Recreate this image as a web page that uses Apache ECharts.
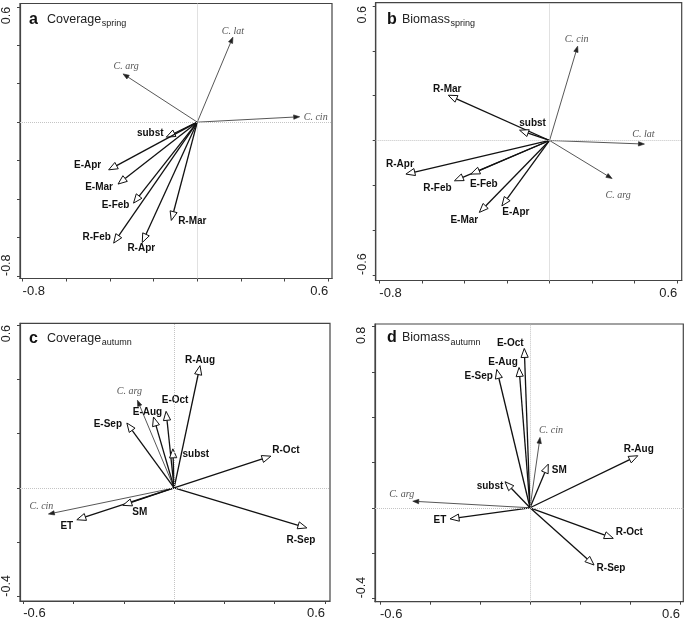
<!DOCTYPE html>
<html><head><meta charset="utf-8">
<script src="https://cdn.jsdelivr.net/npm/echarts@6/dist/echarts.min.js"></script>
<style>html,body{margin:0;padding:0;background:#fff}#c{width:685px;height:622px}</style>
</head><body><div id="c"></div>
<script>
// ---- Panel a: Coverage spring ----
const aEnvNames = ['subst','E-Apr','E-Mar','E-Feb','R-Feb','R-Apr','R-Mar'];
const aEnvX = [-0.142,-0.406,-0.363,-0.292,-0.383,-0.252,-0.119];
const aEnvY = [-0.078,-0.248,-0.322,-0.421,-0.629,-0.626,-0.511];
const aSpNames = ['C. lat','C. arg','C. cin'];
const aSpX = [0.163,-0.340,0.469];
const aSpY = [0.442,0.251,0.028];
const aXTicks = [-0.8,-0.6,-0.4,-0.2,0,0.2,0.4,0.6];
const aYTicks = [-0.8,-0.6,-0.4,-0.2,0,0.2,0.4,0.6];
const aXLabels = [-0.8,0.6];
const aYLabels = [-0.8,0.6];

// ---- Panel b: Biomass spring ----
const bEnvNames = ['R-Mar','subst','R-Apr','R-Feb','E-Feb','E-Mar','E-Apr'];
const bEnvX = [-0.476,-0.141,-0.675,-0.447,-0.370,-0.330,-0.224];
const bEnvY = [0.202,0.046,-0.150,-0.180,-0.150,-0.321,-0.292];
const bSpNames = ['C. cin','C. lat','C. arg'];
const bSpX = [0.132,0.446,0.294];
const bSpY = [0.421,-0.016,-0.170];
const bXTicks = [-0.8,-0.6,-0.4,-0.2,0,0.2,0.4,0.6];
const bYTicks = [-0.6,-0.4,-0.2,0,0.2,0.4,0.6];
const bXLabels = [-0.8,0.6];
const bYLabels = [-0.6,0.6];

// ---- Panel c: Coverage autumn ----
const cEnvNames = ['R-Aug','E-Oct','E-Aug','E-Sep','subst','R-Oct','R-Sep','ET','SM'];
const cEnvX = [0.103,-0.032,-0.082,-0.188,-0.005,0.385,0.528,-0.387,-0.204];
const cEnvY = [0.450,0.282,0.261,0.239,0.144,0.117,-0.147,-0.117,-0.064];
const cSpNames = ['C. arg','C. cin'];
const cSpX = [-0.146,-0.500];
const cSpY = [0.323,-0.096];
const cXTicks = [-0.6,-0.4,-0.2,0,0.2,0.4,0.6];
const cYTicks = [-0.4,-0.2,0,0.2,0.4,0.6];
const cXLabels = [-0.6,0.6];
const cYLabels = [-0.4,0.6];

// ---- Panel d: Biomass autumn ----
const dEnvNames = ['E-Oct','E-Aug','E-Sep','R-Aug','SM','subst','ET','R-Oct','R-Sep'];
const dEnvX = [-0.023,-0.044,-0.133,0.431,0.073,-0.100,-0.320,0.333,0.256];
const dEnvY = [0.704,0.620,0.611,0.230,0.193,0.115,-0.049,-0.135,-0.253];
const dSpNames = ['C. cin','C. arg'];
const dSpX = [0.040,-0.469];
const dSpY = [0.311,0.029];
const dXTicks = [-0.6,-0.4,-0.2,0,0.2,0.4,0.6];
const dYTicks = [-0.4,-0.2,0,0.2,0.4,0.6,0.8];
const dXLabels = [-0.6,0.6];
const dYLabels = [-0.4,0.8];

// ---- Label placement (screen px offsets from arrow tip) ----
const labelOffA = {'C. lat':[0,-6],'C. arg':[3,-8],'C. cin':[16,1],'subst':[-16,-4],'E-Apr':[-21,-5],'E-Mar':[-19,3],'E-Feb':[-18,2],'R-Feb':[-17,-6],'R-Apr':[-1,6],'R-Mar':[21,1]};
const labelOffB = {'C. cin':[-1,-7],'C. lat':[-1,-10],'C. arg':[6,17],'R-Mar':[-1,-6],'subst':[13,-7],'R-Apr':[-6,-10],'R-Feb':[-17,7],'E-Feb':[13,10],'E-Mar':[-15,8],'E-Apr':[14,6]};
const labelOffC = {'R-Aug':[0,-5],'C. arg':[-8,-9],'E-Oct':[9,-11],'E-Aug':[-6,-5],'E-Sep':[-19,1],'subst':[23,5],'R-Oct':[15,-6],'R-Sep':[-6,12],'C. cin':[-7,-8],'ET':[-10,6],'SM':[17,7]};
const labelOffD = {'E-Oct':[-14,-5],'E-Aug':[-16,-5],'E-Sep':[-18,7],'C. cin':[11,-7],'R-Aug':[1,-6],'SM':[11,6],'subst':[-15,5],'C. arg':[-11,-7],'ET':[-10,1],'R-Oct':[16,-6],'R-Sep':[17,3]};

const SANS = '"Liberation Sans", Arial, Helvetica, sans-serif';
const SERIF = '"Liberation Serif", "Times New Roman", serif';

const panels = [
  {letter:'a', main:'Coverage', sub:'spring', envN:aEnvNames, envX:aEnvX, envY:aEnvY, spN:aSpNames, spX:aSpX, spY:aSpY,
   xT:aXTicks, yT:aYTicks, xL:aXLabels, yL:aYLabels, off:labelOffA,
   grid:{left:20, top:3.5, width:312, height:275}, xr:[-0.812,0.617], yr:[-0.813,0.617], tx:29, mx:47, ty:19.5},
  {letter:'b', main:'Biomass', sub:'spring', envN:bEnvNames, envX:bEnvX, envY:bEnvY, spN:bSpNames, spX:bSpX, spY:bSpY,
   xT:bXTicks, yT:bYTicks, xL:bXLabels, yL:bYLabels, off:labelOffB,
   grid:{left:375.7, top:2.7, width:306, height:277.8}, xr:[-0.817,0.621], yr:[-0.625,0.615], tx:387, mx:402, ty:19.5},
  {letter:'c', main:'Coverage', sub:'autumn', envN:cEnvNames, envX:cEnvX, envY:cEnvY, spN:cSpNames, spX:cSpX, spY:cSpY,
   xT:cXTicks, yT:cYTicks, xL:cXLabels, yL:cYLabels, off:labelOffC,
   grid:{left:20, top:323.3, width:310, height:277.7}, xr:[-0.613,0.620], yr:[-0.416,0.606], tx:29, mx:47, ty:338.5},
  {letter:'d', main:'Biomass', sub:'autumn', envN:dEnvNames, envX:dEnvX, envY:dEnvY, spN:dSpNames, spX:dSpX, spY:dSpY,
   xT:dXTicks, yT:dYTicks, xL:dXLabels, yL:dYLabels, off:labelOffD,
   grid:{left:375, top:324, width:308.3, height:277.7}, xr:[-0.62,0.613], yr:[-0.415,0.812], tx:387, mx:402, ty:338}
];

const mctx = document.createElement('canvas').getContext('2d');
function textW(t, font){ mctx.font = font; return mctx.measureText(t).width; }

function makeRender(items, off){
  return function(params, api){
    const it = items[params.dataIndex];
    const p0 = api.coord([0,0]);
    const p1 = api.coord([api.value(0), api.value(1)]);
    const dx = p1[0]-p0[0], dy = p1[1]-p0[1];
    const len = Math.hypot(dx,dy) || 1;
    const ux = dx/len, uy = dy/len, nx = -uy, ny = ux;
    const env = it.kind === 'env';
    const L = env ? 9 : 6, Wd = env ? 3.6 : 2.2;
    const bx = p1[0]-ux*L, by = p1[1]-uy*L;
    const o = off[it.name] || [ux*12, uy*12];
    return {type:'group', children:[
      {type:'line', shape:{x1:p0[0], y1:p0[1], x2:bx, y2:by}, style:{stroke: env?'#111':'#444', lineWidth: env?1.3:0.9}},
      {type:'polygon', shape:{points:[[p1[0],p1[1]],[bx+nx*Wd,by+ny*Wd],[bx-nx*Wd,by-ny*Wd]]},
       style:{fill: env?'#fff':'#222', stroke: env?'#111':'#222', lineWidth: env?1:0.6}},
      {type:'text', x:p1[0]+o[0], y:p1[1]+o[1],
       style:{text: it.name, font: env ? 'bold 10px '+SANS : 'italic 10px '+SERIF, fill: env?'#111':'#555', align:'center', verticalAlign:'middle'}}
    ]};
  };
}

const grids = [], xAxes = [], yAxes = [], series = [], graphics = [];
panels.forEach((p, i) => {
  grids.push(Object.assign({show:true, borderColor:'#444', borderWidth:1.2, backgroundColor:'transparent', containLabel:false, outerBoundsMode:'none'}, p.grid));
  xAxes.push({gridIndex:i, type:'value', min:p.xr[0], max:p.xr[1], position:'bottom',
    axisLine:{show:true, onZero:false, lineStyle:{color:'#444', width:1.2}},
    axisTick:{show:true, customValues:p.xT, length:3, lineStyle:{color:'#444'}},
    axisLabel:{show:true, customValues:p.xL, fontSize:13, color:'#222', fontFamily:SANS, margin:6, alignMinLabel:'left', alignMaxLabel:'right'},
    splitLine:{show:false}});
  yAxes.push({gridIndex:i, type:'value', min:p.yr[0], max:p.yr[1], position:'left',
    axisLine:{show:true, onZero:false, lineStyle:{color:'#444', width:1.2}},
    axisTick:{show:true, customValues:p.yT, length:3, lineStyle:{color:'#444'}},
    axisLabel:{show:true, customValues:p.yL, rotate:90, fontSize:12.5, color:'#222', fontFamily:SANS, margin:7, alignMinLabel:'left', alignMaxLabel:'right'},
    splitLine:{show:false}});
  const items = [];
  p.spN.forEach((n,k) => items.push({name:n, x:p.spX[k], y:p.spY[k], kind:'sp'}));
  p.envN.forEach((n,k) => items.push({name:n, x:p.envX[k], y:p.envY[k], kind:'env'}));
  series.push({type:'line', xAxisIndex:i, yAxisIndex:i, data:[], z:1, silent:true,
    markLine:{silent:true, symbol:'none', label:{show:false}, animation:false,
      lineStyle:{color:'#c4c4c4', type:'dotted', width:1}, data:[{xAxis:0},{yAxis:0}]}});
  series.push({type:'custom', xAxisIndex:i, yAxisIndex:i, coordinateSystem:'cartesian2d', z:3,
    data: items.map(it => [it.x, it.y]), renderItem: makeRender(items, p.off), animation:false});
  const fL = 'bold 16px '+SANS, fM = '12.5px '+SANS, fS = '9px '+SANS;
  graphics.push({type:'text', x:p.tx, y:p.ty, style:{text:p.letter, font:fL, fill:'#111', align:'left', verticalAlign:'middle'}});
  graphics.push({type:'text', x:p.mx, y:p.ty, style:{text:p.main, font:fM, fill:'#222', align:'left', verticalAlign:'middle'}});
  graphics.push({type:'text', x:p.mx + textW(p.main, fM) + 0.5, y:p.ty + 4.5, style:{text:p.sub, font:fS, fill:'#222', align:'left', verticalAlign:'middle'}});
});

const chart = echarts.init(document.getElementById('c'), null, {renderer:'canvas'});
chart.setOption({animation:false, backgroundColor:'#fff', grid:grids, xAxis:xAxes, yAxis:yAxes, series:series, graphic:graphics});
</script></body></html>
